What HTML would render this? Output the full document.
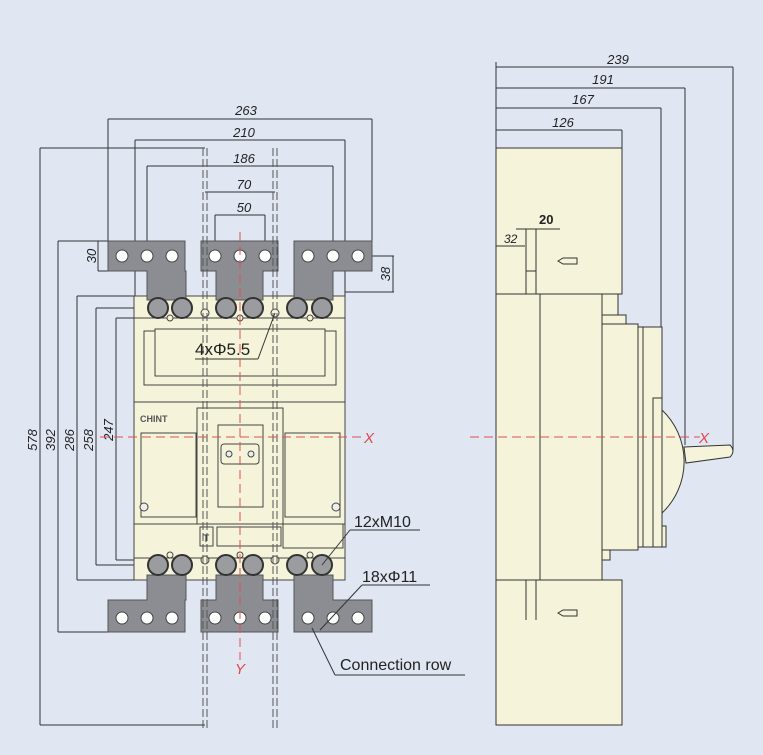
<!DOCTYPE html>
<html><head><meta charset="utf-8"><style>
html,body{margin:0;padding:0;background:#e1e6f3;}
svg{display:block;font-family:"Liberation Sans",sans-serif;}
</style></head><body>
<svg width="763" height="755" viewBox="0 0 763 755" xmlns="http://www.w3.org/2000/svg">
<rect width="763" height="755" fill="#e1e6f3"/>
<g stroke="#333" stroke-width="1" fill="none">
<line x1="108" y1="119" x2="372" y2="119"/><line x1="108" y1="119" x2="108" y2="241"/><line x1="372" y1="119" x2="372" y2="241"/>
<line x1="135" y1="140" x2="345" y2="140"/><line x1="135" y1="140" x2="135" y2="300"/><line x1="345" y1="140" x2="345" y2="300"/>
<line x1="147" y1="166" x2="333" y2="166"/><line x1="147" y1="166" x2="147" y2="256"/><line x1="333" y1="166" x2="333" y2="256"/>
<line x1="205" y1="192" x2="275" y2="192"/>
<line x1="215" y1="215" x2="265" y2="215"/><line x1="215" y1="215" x2="215" y2="256"/><line x1="265" y1="215" x2="265" y2="256"/>
<line x1="40" y1="148" x2="205" y2="148"/><line x1="40" y1="148" x2="40" y2="725"/><line x1="40" y1="725" x2="205" y2="725"/>
<line x1="58" y1="241" x2="108" y2="241"/><line x1="58" y1="241" x2="58" y2="632"/><line x1="58" y1="632" x2="108" y2="632"/>
<line x1="77" y1="296" x2="140" y2="296"/><line x1="77" y1="296" x2="77" y2="580"/><line x1="77" y1="580" x2="140" y2="580"/>
<line x1="98" y1="241" x2="108" y2="241"/><line x1="98" y1="241" x2="98" y2="271"/><line x1="98" y1="271" x2="147" y2="271"/>
<line x1="96" y1="308" x2="150" y2="308"/><line x1="96" y1="308" x2="96" y2="565"/><line x1="96" y1="565" x2="150" y2="565"/>
<line x1="116" y1="318" x2="150" y2="318"/><line x1="116" y1="318" x2="116" y2="560"/><line x1="116" y1="560" x2="150" y2="560"/>
<line x1="358" y1="256" x2="394" y2="256"/><line x1="393" y1="256" x2="393" y2="292"/><line x1="345" y1="292" x2="394" y2="292"/>
</g>
<g font-style="italic" font-size="13" fill="#222" text-anchor="middle">
<text x="246" y="115">263</text><text x="244" y="137">210</text><text x="244" y="163">186</text>
<text x="244" y="189">70</text><text x="244" y="212">50</text>
<text transform="translate(37,440) rotate(-90)">578</text>
<text transform="translate(55,440) rotate(-90)">392</text>
<text transform="translate(74,440) rotate(-90)">286</text>
<text transform="translate(93,440) rotate(-90)">258</text>
<text transform="translate(113,430) rotate(-90)">247</text>
<text transform="translate(96,256) rotate(-90)">30</text>
<text transform="translate(390,274) rotate(-90)">38</text>
</g>
<g stroke="#444" stroke-width="1" fill="#f5f4da">
<rect x="134" y="296" width="211" height="284"/>
<rect x="134" y="318" width="211" height="240"/>
<rect x="144" y="331" width="192" height="54"/>
<rect x="155" y="329" width="170" height="47"/>
<rect x="134" y="402" width="211" height="122"/>
<rect x="141" y="433" width="55" height="84"/>
<rect x="285" y="433" width="55" height="84"/>
<rect x="197" y="408" width="86" height="116"/>
<rect x="218" y="425" width="45" height="82"/>
<rect x="221" y="444" width="38" height="20" rx="3"/>
<rect x="200" y="527" width="13" height="19"/>
<rect x="217" y="527" width="64" height="19"/>
<rect x="283" y="524" width="60" height="24"/>
</g>
<text x="140" y="422" font-size="9" font-weight="bold" fill="#555">CHINT</text>
<text x="206" y="542" font-size="11" fill="#333" text-anchor="middle">T</text>
<g fill="#eee" stroke="#444"><circle cx="229" cy="454" r="3"/><circle cx="251" cy="454" r="3"/>
<circle cx="144" cy="507" r="4"/><circle cx="336" cy="507" r="4"/></g>
<g fill="#8b8d92" stroke="#555">
<path d="M108 241H185V271H186V300H147V271H108Z"/>
<path d="M201 241H278V271H263V300H216V271H201Z"/>
<path d="M294 241H372V271H333V300H294Z"/>
<path d="M108 632H185V600H186V575H147V600H108Z"/>
<path d="M201 632H278V600H263V575H216V600H201Z"/>
<path d="M294 632H372V600H333V575H294Z"/>
</g>
<g fill="#fff" stroke="#444">
<circle cx="122" cy="256" r="6"/><circle cx="147" cy="256" r="6"/><circle cx="172" cy="256" r="6"/>
<circle cx="215" cy="256" r="6"/><circle cx="240" cy="256" r="6"/><circle cx="265" cy="256" r="6"/>
<circle cx="308" cy="256" r="6"/><circle cx="333" cy="256" r="6"/><circle cx="358" cy="256" r="6"/>
<circle cx="122" cy="618" r="6"/><circle cx="147" cy="618" r="6"/><circle cx="172" cy="618" r="6"/>
<circle cx="215" cy="618" r="6"/><circle cx="240" cy="618" r="6"/><circle cx="265" cy="618" r="6"/>
<circle cx="308" cy="618" r="6"/><circle cx="333" cy="618" r="6"/><circle cx="358" cy="618" r="6"/>
</g>
<g fill="#9a9ca0" stroke="#333" stroke-width="2">
<circle cx="158" cy="308" r="10"/><circle cx="182" cy="308" r="10"/><circle cx="226" cy="308" r="10"/><circle cx="253" cy="308" r="10"/><circle cx="297" cy="308" r="10"/><circle cx="322" cy="308" r="10"/>
<circle cx="158" cy="565" r="10"/><circle cx="182" cy="565" r="10"/><circle cx="226" cy="565" r="10"/><circle cx="253" cy="565" r="10"/><circle cx="297" cy="565" r="10"/><circle cx="322" cy="565" r="10"/>
</g>
<g fill="#f5f4da" stroke="#444"><circle cx="205" cy="313" r="4"/><circle cx="275" cy="313" r="4"/><circle cx="205" cy="560" r="4"/><circle cx="275" cy="560" r="4"/>
<circle cx="170" cy="318" r="3"/><circle cx="240" cy="318" r="3"/><circle cx="310" cy="318" r="3"/>
<circle cx="170" cy="555" r="3"/><circle cx="240" cy="555" r="3"/><circle cx="310" cy="555" r="3"/></g>
<g stroke="#555" stroke-width="1" stroke-dasharray="8,3">
<line x1="203" y1="148" x2="203" y2="730"/><line x1="207" y1="148" x2="207" y2="730"/>
<line x1="273" y1="148" x2="273" y2="730"/><line x1="277" y1="148" x2="277" y2="730"/>
</g>
<text x="195" y="355" font-size="17" fill="#222">4xΦ5.5</text>
<g stroke="#333" fill="none"><line x1="195" y1="359" x2="258" y2="359"/><line x1="258" y1="359" x2="275" y2="313"/>
<line x1="322" y1="565" x2="350" y2="530"/><line x1="350" y1="530" x2="420" y2="530"/>
<line x1="320" y1="630" x2="362" y2="585"/><line x1="362" y1="585" x2="430" y2="585"/>
<line x1="312" y1="628" x2="335" y2="675"/><line x1="335" y1="675" x2="465" y2="675"/></g>
<text x="354" y="527" font-size="16" fill="#222">12xM10</text>
<text x="362" y="582" font-size="16" fill="#222">18xΦ11</text>
<text x="340" y="670" font-size="16" fill="#222">Connection row</text>
<!-- side view -->
<g stroke="#333" fill="none">
<line x1="496" y1="67" x2="733" y2="67"/><line x1="496" y1="62" x2="496" y2="148"/><line x1="733" y1="67" x2="733" y2="450"/>
<line x1="496" y1="88" x2="685" y2="88"/><line x1="685" y1="88" x2="685" y2="445"/>
<line x1="496" y1="108" x2="661" y2="108"/><line x1="661" y1="108" x2="661" y2="330"/>
<line x1="496" y1="130" x2="622" y2="130"/><line x1="622" y1="130" x2="622" y2="148"/>
</g>
<g font-style="italic" font-size="13" fill="#222" text-anchor="middle"><text x="618" y="64">239</text><text x="603" y="84">191</text><text x="583" y="104">167</text><text x="563" y="127">126</text></g>
<g stroke="#333" fill="#f5f4da">
<path d="M662 410A71 71 0 0 1 662 513Z"/>
<path d="M684 447L730 445Q736 451 730 457L686 463Z"/>
<rect x="496" y="148" width="126" height="146"/>
<rect x="496" y="580" width="126" height="145"/>
<rect x="496" y="294" width="106" height="286"/>
<path d="M602 294H618V387H602Z"/>
<rect x="602" y="315" width="24" height="9"/>
<rect x="602" y="324" width="36" height="226"/>
<rect x="638" y="327" width="5" height="220"/>
<rect x="643" y="327" width="19" height="220"/>
<rect x="653" y="398" width="9" height="149"/>
<rect x="662" y="526" width="4" height="21"/>
<rect x="602" y="550" width="8" height="10"/>
</g>
<g stroke="#333" fill="none"><line x1="540" y1="294" x2="540" y2="580"/>
<line x1="526" y1="229" x2="526" y2="294"/><line x1="536" y1="229" x2="536" y2="294"/><line x1="526" y1="271" x2="536" y2="271"/>
<line x1="526" y1="580" x2="526" y2="620"/><line x1="536" y1="580" x2="536" y2="620"/>
<line x1="516" y1="229" x2="560" y2="229"/><line x1="496" y1="246" x2="525" y2="246"/>
<path d="M558 261L563 258H577V264H563Z"/><path d="M558 613L563 610H577V616H563Z"/></g>
<text x="539" y="224" font-size="13" font-weight="bold" fill="#222">20</text>
<text x="504" y="243" font-size="12" font-style="italic" fill="#222">32</text>
<g stroke="#e05050" stroke-width="1" stroke-dasharray="9,5">
<line x1="240" y1="232" x2="240" y2="660"/><line x1="100" y1="437" x2="362" y2="437"/>
<line x1="470" y1="437" x2="700" y2="437"/>
</g>
<g fill="#e04848" font-style="italic" font-size="15"><text x="364" y="443">X</text><text x="235" y="674">Y</text><text x="699" y="443">X</text></g>
</svg>
</body></html>
